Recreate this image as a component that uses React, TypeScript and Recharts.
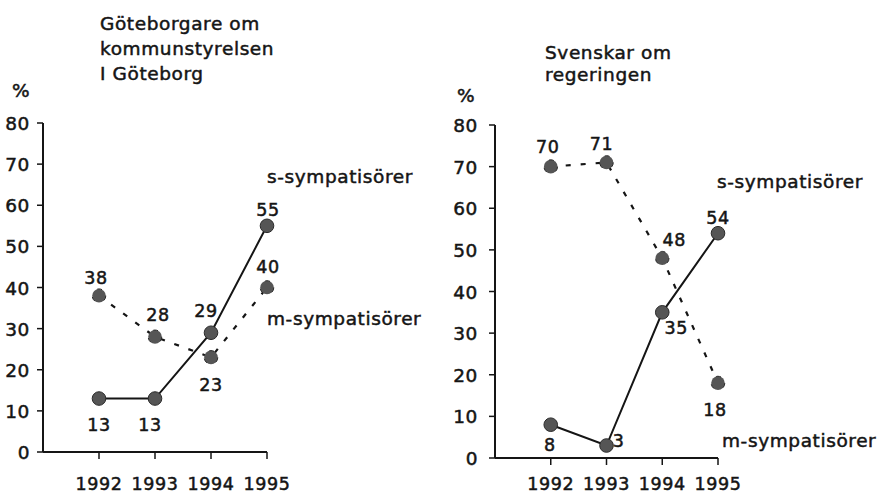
import React from 'react'
import { LineChart, Line, XAxis, YAxis, LabelList } from 'recharts'

const years = [1992, 1993, 1994, 1995]
const yTicks = [0, 10, 20, 30, 40, 50, 60, 70, 80]

// Göteborg: förtroende för kommunstyrelsen
const gbgS = [13, 13, 29, 55]
const gbgM = [38, 28, 23, 40]
// Sverige: förtroende för regeringen
const sweS = [8, 3, 35, 54]
const sweM = [70, 71, 48, 18]

// label offsets from the dot centre [dx, dy]
const gbgSOff = [[0, 26], [-5, 26], [-5, -22], [1, -16]]
const gbgMOff = [[-3, -18], [3, -22], [0, 27], [1, -21]]
const sweSOff = [[-1, 20], [12, -5], [14, 15], [0, -16]]
const sweMOff = [[-3, -20], [-5, -19], [12, -19], [-3, 26]]

const FONT = '"DejaVu Sans", sans-serif'
const INK = '#151515'

// scanned Helvetica look: regular face, slightly thickened and spaced
const ink = (size: number) => ({
  fontFamily: FONT, fontSize: size, fill: INK,
  stroke: INK, strokeWidth: 0.5, style: { letterSpacing: 0.6 },
})

const gbgData = years.map((year, i) => ({ year, s: gbgS[i], m: gbgM[i] }))
const sweData = years.map((year, i) => ({ year, s: sweS[i], m: sweM[i] }))

const dotStyle = { r: 6.8, fill: '#555', stroke: '#2a2a2a', strokeWidth: 1 }

const pointLabel = (offs: number[][]) => (props: any) => {
  const { x, y, value, index } = props
  const [dx, dy] = offs[index] || [0, -16]
  return (
    <text x={x + dx} y={y + dy + 6.5} textAnchor="middle" {...ink(17.5)}>
      {value}
    </text>
  )
}

const XTick = (props: any) => {
  const { x, y, payload } = props
  return (
    <text x={x} y={y + 13} textAnchor="middle" {...ink(17.5)}>
      {payload.value}
    </text>
  )
}

const YTick = (props: any) => {
  const { x, y, payload } = props
  return (
    <text x={x} y={y + 7} textAnchor="end" {...ink(18.5)}>
      {payload.value}
    </text>
  )
}

interface PanelProps {
  data: { year: number; s: number; m: number }[]
  width: number
  right: number
  top: number
  xAxisH: number
  yAxisW: number
  xTickMargin: number
  yTickMargin: number
  sOff: number[][]
  mOff: number[][]
}

function Panel({ data, width, right, top, xAxisH, yAxisW, xTickMargin, yTickMargin, sOff, mOff }: PanelProps) {
  return (
    <LineChart width={width} height={498} data={data} margin={{ top, right, bottom: 0, left: 0 }}>
      <XAxis
        dataKey="year" type="number" domain={[1991, 1995]} ticks={years}
        height={xAxisH} tickSize={7} tickMargin={xTickMargin}
        axisLine={{ stroke: INK, strokeWidth: 2 }}
        tickLine={{ stroke: INK, strokeWidth: 1.5 }}
        tick={<XTick />}
      />
      <YAxis
        type="number" domain={[0, 80]} ticks={yTicks} width={yAxisW}
        tickSize={6} tickMargin={yTickMargin}
        axisLine={{ stroke: INK, strokeWidth: 2 }}
        tickLine={{ stroke: INK, strokeWidth: 1.5 }}
        tick={<YTick />}
      />
      <Line
        type="linear" dataKey="m" stroke={INK} strokeWidth={2.2}
        strokeDasharray="5 10" dot={dotStyle} activeDot={false}
        isAnimationActive={false}
      >
        <LabelList dataKey="m" content={pointLabel(mOff)} />
      </Line>
      <Line
        type="linear" dataKey="s" stroke={INK} strokeWidth={2}
        dot={dotStyle} activeDot={false} isAnimationActive={false}
      >
        <LabelList dataKey="s" content={pointLabel(sOff)} />
      </Line>
    </LineChart>
  )
}

const txt = ink(18.5)

export default function App() {
  return (
    <div style={{ position: 'absolute', left: 0, top: 0, width: 882, height: 498, background: '#fff' }}>
      <div style={{ position: 'absolute', left: 0, top: 0 }}>
        <Panel
          data={gbgData} width={440} right={173} top={123}
          xAxisH={46} yAxisW={43} xTickMargin={18} yTickMargin={7}
          sOff={gbgSOff} mOff={gbgMOff}
        />
      </div>
      <div style={{ position: 'absolute', left: 440, top: 0 }}>
        <Panel
          data={sweData} width={442} right={164} top={125}
          xAxisH={40} yAxisW={55} xTickMargin={12} yTickMargin={11}
          sOff={sweSOff} mOff={sweMOff}
        />
      </div>
      <svg width={882} height={498} style={{ position: 'absolute', left: 0, top: 0, pointerEvents: 'none' }}>
        <text x={100} y={30} {...txt}>Göteborgare om</text>
        <text x={100} y={55} {...txt}>kommunstyrelsen</text>
        <text x={100} y={80} {...txt}>I Göteborg</text>
        <text x={12} y={97} {...txt}>%</text>
        <text x={267} y={183} {...txt}>s-sympatisörer</text>
        <text x={267} y={325} {...txt}>m-sympatisörer</text>

        <text x={545} y={59} {...txt}>Svenskar om</text>
        <text x={545} y={81} {...txt}>regeringen</text>
        <text x={457} y={102} {...txt}>%</text>
        <text x={717} y={188} {...txt}>s-sympatisörer</text>
        <text x={722} y={447} {...txt}>m-sympatisörer</text>
      </svg>
    </div>
  )
}
